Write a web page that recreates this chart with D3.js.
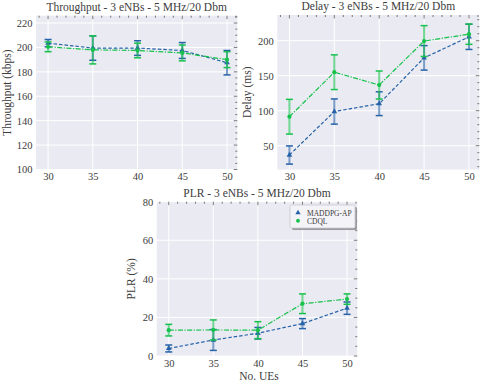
<!DOCTYPE html>
<html>
<head>
<meta charset="utf-8">
<script src="https://cdn.jsdelivr.net/npm/d3@7"></script>
<style>
  body { margin: 0; background: #fff; }
  svg text { font-family: "Liberation Serif", "DejaVu Serif", serif; fill: #3c3c3c; }
</style>
</head>
<body>
<div id="chart"></div>
<script>
// number of UEs on the x axis
var ues = [30, 35, 40, 45, 50];

// throughput (kbps)
var thrMaddpg    = [203.5, 199.5, 199.5, 197.5, 187.5];
var thrMaddpgErr = [3, 10, 6, 6.5, 10];
var thrCdql      = [200.5, 198, 197.5, 195.5, 190];
var thrCdqlErr   = [4, 11.5, 6, 6.5, 6.5];

// delay (ms)
var delMaddpg    = [36.7, 98.8, 110, 175.5, 205.5];
var delMaddpgErr = [13, 18, 17, 17.5, 18];
var delCdql      = [91.4, 155, 136.7, 199.5, 209.3];
var delCdqlErr   = [24.8, 24.8, 20, 22, 14.5];

// packet loss rate (%)
var plrMaddpg    = [3.9, 8.3, 11.8, 16.8, 24.8];
var plrMaddpgErr = [1.8, 5.4, 3, 2.6, 3.2];
var plrCdql      = [13.4, 13.5, 13.4, 27.1, 29.5];
var plrCdqlErr   = [3, 5.2, 4.4, 5.1, 2.7];

var xTicks   = [30, 35, 40, 45, 50];
var thrTicks = [100, 120, 140, 160, 180, 200, 220];
var delTicks = [50, 100, 150, 200];
var plrTicks = [0, 20, 40, 60, 80];

var blue = "#2662a8", green = "#17c24c";

var svg = d3.select("#chart").append("svg")
  .attr("width", 483).attr("height", 385);

function drawPanel(cfg) {
  var x = d3.scaleLinear().domain([28.65, 51.15]).range([cfg.left, cfg.right]);
  var y = d3.scaleLinear().domain(cfg.yDomain).range([cfg.bottom, cfg.top]);
  var g = svg.append("g");

  g.append("rect")
    .attr("x", cfg.left).attr("y", cfg.top)
    .attr("width", cfg.right - cfg.left).attr("height", cfg.bottom - cfg.top)
    .attr("fill", "#eaeaf2");

  // grid
  g.selectAll(".gx").data(xTicks).enter().append("line")
    .attr("x1", d => x(d)).attr("x2", d => x(d))
    .attr("y1", cfg.top).attr("y2", cfg.bottom)
    .attr("stroke", "#fff").attr("stroke-width", 1);
  g.selectAll(".gy").data(cfg.yTicks).enter().append("line")
    .attr("y1", d => y(d)).attr("y2", d => y(d))
    .attr("x1", cfg.left).attr("x2", cfg.right)
    .attr("stroke", "#fff").attr("stroke-width", 1);

  // inward ticks on top and right spines
  var xMinor = d3.range(29, 52, 1);
  g.selectAll(".tt").data(xMinor).enter().append("line")
    .attr("x1", d => x(d)).attr("x2", d => x(d))
    .attr("y1", cfg.top).attr("y2", d => cfg.top + (d % 5 === 0 ? 3.5 : 2))
    .attr("stroke", "#555").attr("stroke-width", 0.8);
  var yMinor = d3.range(Math.ceil(cfg.yDomain[0] / cfg.minor) * cfg.minor, cfg.yDomain[1], cfg.minor);
  g.selectAll(".tr").data(yMinor).enter().append("line")
    .attr("y1", d => y(d)).attr("y2", d => y(d))
    .attr("x1", cfg.right).attr("x2", d => cfg.right - (d % cfg.major === 0 ? 3.5 : 2))
    .attr("stroke", "#555").attr("stroke-width", 0.8);

  // axes labels
  var xa = g.append("g").attr("transform", "translate(0," + cfg.bottom + ")")
    .call(d3.axisBottom(x).tickValues(xTicks).tickSize(0).tickPadding(3.5));
  var ya = g.append("g").attr("transform", "translate(" + cfg.left + ",0)")
    .call(d3.axisLeft(y).tickValues(cfg.yTicks).tickSize(0).tickPadding(3.5));
  [xa, ya].forEach(function (a) {
    a.select(".domain").remove();
    a.selectAll("text").attr("font-size", 10.5).attr("fill", "#3c3c3c")
      .attr("font-family", "Liberation Serif, serif");
  });

  g.append("text")
    .attr("x", (cfg.left + cfg.right) / 2).attr("y", cfg.top - 5)
    .attr("text-anchor", "middle").attr("font-size", 11.5)
    .text(cfg.title);
  g.append("text")
    .attr("transform", "translate(" + cfg.ylabelX + "," + (cfg.top + cfg.bottom) / 2 + ") rotate(-90)")
    .attr("text-anchor", "middle").attr("font-size", 11.5)
    .text(cfg.ylabel);

  // series
  cfg.series.forEach(function (s) {
    var pts = ues.map((u, i) => ({ x: u, y: s.values[i], e: s.errs[i] }));
    var eb = g.append("g");
    eb.selectAll("line.v").data(pts).enter().append("line")
      .attr("x1", d => x(d.x)).attr("x2", d => x(d.x))
      .attr("y1", d => y(d.y - d.e)).attr("y2", d => y(d.y + d.e))
      .attr("stroke", s.color).attr("stroke-opacity", 0.6).attr("stroke-width", 2);
    [-1, 1].forEach(function (sign) {
      eb.selectAll("line.c" + sign).data(pts).enter().append("line")
        .attr("x1", d => x(d.x) - 3.5).attr("x2", d => x(d.x) + 3.5)
        .attr("y1", d => y(d.y + sign * d.e)).attr("y2", d => y(d.y + sign * d.e))
        .attr("stroke", s.color).attr("stroke-width", 1.5);
    });
    g.append("path").datum(pts)
      .attr("d", d3.line().x(d => x(d.x)).y(d => y(d.y)))
      .attr("fill", "none").attr("stroke", s.color).attr("stroke-width", 1.2)
      .attr("stroke-dasharray", s.dash);
    g.selectAll(null).data(pts).enter().append("path")
      .attr("transform", d => "translate(" + x(d.x) + "," + y(d.y) + ")")
      .attr("d", d3.symbol().type(s.symbol).size(14))
      .attr("fill", s.color);
  });
}

var maddpg = (v, e) => ({ values: v, errs: e, color: blue, dash: "3.5,2", symbol: d3.symbolTriangle });
var cdql = (v, e) => ({ values: v, errs: e, color: green, dash: "5,1.5,1.2,1.5", symbol: d3.symbolCircle });

drawPanel({
  left: 36, right: 237.3, top: 15.7, bottom: 169.5,
  yDomain: [100, 226], yTicks: thrTicks, major: 20, minor: 5,
  title: "Throughput - 3 eNBs - 5 MHz/20 Dbm", ylabel: "Throughput (kbps)", ylabelX: 11,
  series: [maddpg(thrMaddpg, thrMaddpgErr), cdql(thrCdql, thrCdqlErr)]
});
drawPanel({
  left: 277.3, right: 479.3, top: 15, bottom: 169.5,
  yDomain: [16, 236.7], yTicks: delTicks, major: 50, minor: 10,
  title: "Delay - 3 eNBs - 5 MHz/20 Dbm", ylabel: "Delay (ms)", ylabelX: 251,
  series: [maddpg(delMaddpg, delMaddpgErr), cdql(delCdql, delCdqlErr)]
});
drawPanel({
  left: 156.7, right: 357.3, top: 201.7, bottom: 356,
  yDomain: [0, 80], yTicks: plrTicks, major: 20, minor: 5,
  title: "PLR - 3 eNBs - 5 MHz/20 Dbm", ylabel: "PLR (%)", ylabelX: 135,
  series: [maddpg(plrMaddpg, plrMaddpgErr), cdql(plrCdql, plrCdqlErr)]
});

svg.append("text").attr("x", 259).attr("y", 380)
  .attr("text-anchor", "middle").attr("font-size", 11.5).text("No. UEs");

// legend
var legend = svg.append("g").attr("transform", "translate(290,205)");
legend.append("rect").attr("x", 2).attr("y", 2).attr("width", 65).attr("height", 23)
  .attr("rx", 1.5).attr("fill", "#9a9aa0");
legend.append("rect").attr("width", 65).attr("height", 23).attr("rx", 1.5)
  .attr("fill", "#f4f4f8").attr("stroke", "#c8c8cc").attr("stroke-width", 0.8);
[["MADDPG-AP", blue, d3.symbolTriangle], ["CDQL", green, d3.symbolCircle]].forEach(function (e, i) {
  legend.append("path").attr("transform", "translate(8," + (7.7 + i * 8) + ")")
    .attr("d", d3.symbol().type(e[2]).size(12)).attr("fill", e[1]);
  legend.append("text").attr("x", 17).attr("y", 10.5 + i * 8)
    .attr("font-size", 7.5).text(e[0]);
});
</script>
</body>
</html>
